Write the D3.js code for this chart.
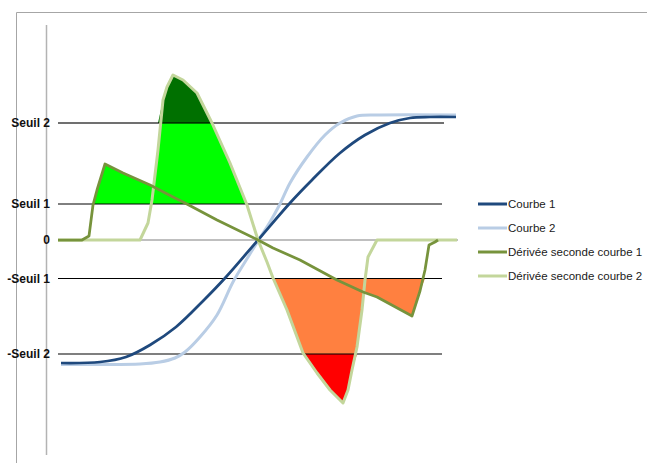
<!DOCTYPE html>
<html><head><meta charset="utf-8">
<script src="https://cdn.jsdelivr.net/npm/d3@7"></script>
<style>html,body{margin:0;padding:0;background:#fff;overflow:hidden}</style>
</head><body>
<svg id="c" width="647" height="463"></svg>
<script>
// ---- data (x in time units, y in chart units) ----
const courbe1X = [0.4, 4.3, 6.9, 9.3, 11.9, 14.7, 16.9, 20.1, 23.3, 25.5, 28.3, 30.8, 33.3, 35.3, 37.3, 39.9];
const courbe1Y = [-12.3, -12.2, -11.7, -10.5, -8.7, -6.0, -3.7, 0, 3.7, 6.0, 8.7, 10.5, 11.7, 12.2, 12.3, 12.3];

const courbe2X = [0.4, 4.3, 8.3, 10.3, 11.8, 12.8, 14.3, 16.0, 17.6, 18.8, 20.1, 21.3, 22.3, 23.3, 25.0, 26.8, 28.3, 30.0, 32.3, 39.9];
const courbe2Y = [-12.45, -12.45, -12.4, -12.2, -11.8, -11.2, -9.7, -7.5, -4.2, -2.2, -0.1, 1.8, 3.6, 5.7, 8.3, 10.5, 11.7, 12.4, 12.5, 12.5];

const derivee1X = [0.1, 2.5, 3.2, 3.6, 4.0, 4.8, 6.6, 9.3, 11.6, 12.8, 16.0, 20.1, 21.6, 24.3, 28.0, 30.6, 32.0, 35.5, 36.3, 36.8, 37.2, 37.8, 38.1];
const derivee1Y = [0, 0, 0.4, 3.5, 5.0, 7.6, 6.7, 5.5, 4.3, 3.7, 2.0, 0, -0.8, -2.0, -4.0, -5.2, -5.7, -7.6, -5.1, -3.0, -0.5, -0.2, 0];

const derivee2X = [0.1, 8.3, 9.1, 9.5, 10.1, 10.6, 11.0, 11.6, 12.6, 14.0, 15.5, 17.3, 19.0, 20.1, 21.0, 21.6, 23.0, 24.6, 26.0, 27.3, 28.6, 29.1, 29.5, 30.0, 30.5, 30.8, 31.1, 32.0, 40.0];
const derivee2Y = [0, 0, 1.7, 4.0, 9.0, 14.0, 15.3, 16.5, 16.0, 14.7, 11.7, 7.7, 3.5, 0, -2.2, -3.8, -7.0, -11.3, -13.3, -15.0, -16.3, -15.0, -13.0, -10.7, -7.0, -4.0, -1.7, 0, 0];

const seuilLabels = ["Seuil 2", "Seuil 1", "0", "-Seuil 1", "-Seuil 2"];
const seuilValues = [11.7, 3.6, 0, -3.85, -11.4];

const seriesNames = ["Courbe 1", "Courbe 2", "Dérivée seconde courbe 1", "Dérivée seconde courbe 2"];

// ---- layout ----
const svg = d3.select("#c");
const x = d3.scaleLinear().domain([0, 40]).range([57, 457]);
const y = d3.scaleLinear().domain([-21.5, 21.5]).range([455, 25]);

const zip = (xs, ys) => xs.map((v, i) => [v, ys[i]]);
const c1 = zip(courbe1X, courbe1Y), c2 = zip(courbe2X, courbe2Y);
const d1 = zip(derivee1X, derivee1Y), d2 = zip(derivee2X, derivee2Y);

// outer frame
svg.append("path").attr("d", "M16.5,463 V12.5 H647").attr("fill", "none").attr("stroke", "#a6a6a6").attr("stroke-width", 1);
// vertical axis
svg.append("path").attr("d", d3.line()([[46.5, y(21.5)], [46.5, y(-21.5)]]))
  .attr("stroke", "#b3b3b3").attr("stroke-width", 1.5).attr("fill", "none");

// fills: region between threshold and curve, only where the curve goes beyond it
function fill(data, base, above, color) {
  const clamp = v => above ? Math.max(v, base) : Math.min(v, base);
  const area = d3.area().x(d => x(d[0])).y0(y(base)).y1(d => y(clamp(d[1])));
  svg.append("path").attr("d", area(data)).attr("fill", color);
}
[d1, d2].forEach(d => fill(d, seuilValues[1], true, "#00ff00"));
[d1, d2].forEach(d => fill(d, seuilValues[0], true, "#007000"));
[d1, d2].forEach(d => fill(d, seuilValues[3], false, "#ff8040"));
[d1, d2].forEach(d => fill(d, seuilValues[4], false, "#ff0000"));

// threshold lines
const seuilStyles = [
  {c: "rgba(0,0,0,0.75)", w: 1.5, x1: 38.7},
  {c: "#000", w: 1, x1: 38.5},
  {c: "#bfbfbf", w: 2, x1: 40.1},
  {c: "#000", w: 1, x1: 38.5},
  {c: "rgba(0,0,0,0.5)", w: 2, x1: 38.5}
];
seuilValues.forEach((v, i) => {
  svg.append("path")
    .attr("d", d3.line()([[x(0.1), y(v)], [x(seuilStyles[i].x1), y(v)]]))
    .attr("fill", "none")
    .attr("stroke", seuilStyles[i].c).attr("stroke-width", seuilStyles[i].w);
  svg.append("text").attr("x", 50).attr("y", y(v)).attr("dy", "0.35em")
    .attr("text-anchor", "end").attr("font-family", "Liberation Sans, Arial, sans-serif")
    .attr("font-weight", "bold").attr("font-size", 12).attr("fill", "#111").text(seuilLabels[i]);
});

// curves
const colors = ["#1f497d", "#b9cde5", "#77933c", "#c3d69b"];
const smooth = d3.line().x(d => x(d[0])).y(d => y(d[1])).curve(d3.curveCatmullRom.alpha(0.5));
const lin = d3.line().x(d => x(d[0])).y(d => y(d[1]));
svg.append("path").attr("d", smooth(c2)).attr("fill", "none").attr("stroke", colors[1]).attr("stroke-width", 3).attr("stroke-linejoin", "round");
svg.append("path").attr("d", smooth(c1)).attr("fill", "none").attr("stroke", colors[0]).attr("stroke-width", 2.75).attr("stroke-linejoin", "round");
svg.append("path").attr("d", lin(d2)).attr("fill", "none").attr("stroke", colors[3]).attr("stroke-width", 3).attr("stroke-linejoin", "round");
svg.append("path").attr("d", lin(d1)).attr("fill", "none").attr("stroke", colors[2]).attr("stroke-width", 2.75).attr("stroke-linejoin", "round");

// legend
const leg = svg.append("g");
seriesNames.forEach((n, i) => {
  const yy = 204 + i * 24;
  leg.append("path").attr("d", d3.line()([[478, yy], [507, yy]]))
    .attr("stroke", colors[i]).attr("stroke-width", 3).attr("fill", "none");
  leg.append("text").attr("x", 508).attr("y", yy).attr("dy", "0.35em")
    .attr("font-family", "Liberation Sans, Arial, sans-serif").attr("font-size", 11.5)
    .attr("fill", "#1a1a1a").text(n);
});
</script>
</body></html>
